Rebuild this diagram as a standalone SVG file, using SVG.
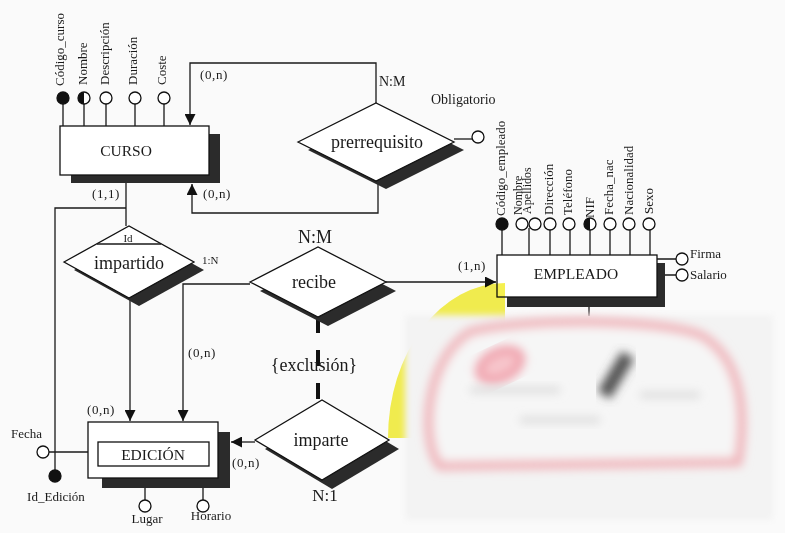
<svg xmlns="http://www.w3.org/2000/svg" width="785" height="533" viewBox="0 0 785 533">
<defs>
<style>
.ln{stroke:#1a1a1a;stroke-width:1.3;fill:none}
.box{fill:#fff;stroke:#111;stroke-width:1.3}
.sh{fill:#2b2b2b}
.at{fill:#fff;stroke:#111;stroke-width:1.3}
.fk{fill:#111;stroke:#111;stroke-width:1.3}
.t{font-family:"Liberation Serif","Times New Roman",serif;fill:#1a1a1a}
.s{font-size:13px}
.c{font-size:13px;letter-spacing:0.6px}
.v{font-size:13px}
.m{font-size:18px}
.e{font-size:15.5px}
</style>
<marker id="ar" viewBox="0 0 10 10" refX="10" refY="5" markerWidth="11" markerHeight="11" markerUnits="userSpaceOnUse" orient="auto">
<path d="M0,0 L10,5 L0,10 Z" fill="#111"/>
</marker>
<filter id="b3" x="-10%" y="-10%" width="120%" height="120%"><feGaussianBlur stdDeviation="3"/></filter>
<filter id="b5" x="-30%" y="-30%" width="160%" height="160%"><feGaussianBlur stdDeviation="5"/></filter>
</defs>
<rect width="785" height="533" fill="#fafafa"/>

<g id="connectors">
<path class="ln" d="M376,103 V63 H190 V125" marker-end="url(#ar)"/>
<path class="ln" d="M378,181 V213 H192 V184" marker-end="url(#ar)"/>
<path class="ln" d="M126,183 V226"/>
<path class="ln" d="M126,208 H55 V470"/>
<path class="ln" d="M130,297 V421" marker-end="url(#ar)"/>
<path class="ln" d="M250,284 H183 V421" marker-end="url(#ar)"/>
<path class="ln" d="M386,282 H496" marker-end="url(#ar)"/>
<path class="ln" d="M255,442 H231" marker-end="url(#ar)"/>
<path d="M318,317 V400" stroke="#111" stroke-width="4" stroke-dasharray="16 17" fill="none"/>
<path class="ln" d="M589,307 V316"/>
</g>

<g id="curso">
<rect class="sh" x="71" y="134" width="149" height="49"/>
<rect class="box" x="60" y="126" width="149" height="49"/>
<text class="t e" x="126" y="156" text-anchor="middle">CURSO</text>
<path class="ln" d="M63,104 V126 M84,104 V126 M106,104 V126 M135,104 V126 M164,104 V126"/>
<circle class="fk" cx="63" cy="98" r="6"/>
<circle class="at" cx="84" cy="98" r="6"/>
<path d="M84,92 A6,6 0 0 0 84,104 Z" fill="#111"/>
<circle class="at" cx="106" cy="98" r="6"/>
<circle class="at" cx="135" cy="98" r="6"/>
<circle class="at" cx="164" cy="98" r="6"/>
<text class="t v" transform="translate(64,86) rotate(-90)">Código_curso</text>
<text class="t v" transform="translate(87,85) rotate(-90)">Nombre</text>
<text class="t v" transform="translate(109,85) rotate(-90)">Descripción</text>
<text class="t v" transform="translate(137,85) rotate(-90)">Duración</text>
<text class="t v" transform="translate(166,85) rotate(-90)">Coste</text>
</g>

<g id="prerrequisito">
<polygon class="sh" points="308,150 386,111 464,150 386,189"/>
<polygon class="box" points="298,142 376,103 454,142 376,181"/>
<text class="t m" x="377" y="148" text-anchor="middle">prerrequisito</text>
<path class="ln" d="M454,139 H472"/>
<circle class="at" cx="478" cy="137" r="6"/>
<text class="t" font-size="14" x="431" y="104">Obligatorio</text>
</g>

<g id="impartido">
<polygon class="sh" points="74,270 139,234 204,270 139,306"/>
<polygon class="box" points="64,262 129,226 194,262 129,298"/>
<path class="ln" d="M97,244 H161"/>
<text class="t" x="128" y="242" text-anchor="middle" font-size="11">Id</text>
<text class="t m" x="129" y="269" text-anchor="middle">impartido</text>
</g>

<g id="recibe">
<polygon class="sh" points="260,291 328,256 396,291 328,326"/>
<polygon class="box" points="250,282 318,247 386,282 318,317"/>
<text class="t m" x="314" y="288" text-anchor="middle">recibe</text>
</g>

<g id="imparte">
<polygon class="sh" points="265,449 332,409 399,449 332,489"/>
<polygon class="box" points="255,440 322,400 389,440 322,480"/>
<text class="t m" x="321" y="446" text-anchor="middle">imparte</text>
</g>

<g id="empleado">
<rect class="sh" x="507" y="263" width="158" height="44"/>
<rect class="box" x="497" y="255" width="160" height="42"/>
<text class="t e" x="576" y="279" text-anchor="middle">EMPLEADO</text>
<path class="ln" d="M502,230 V255 M529,228 V255 M550,230 V255 M570,230 V255 M590,230 V255 M610,230 V255 M630,230 V255 M650,230 V255"/>
<circle class="fk" cx="502" cy="224" r="6"/>
<circle class="at" cx="522" cy="224" r="6"/>
<circle class="at" cx="535" cy="224" r="6"/>
<circle class="at" cx="550" cy="224" r="6"/>
<circle class="at" cx="569" cy="224" r="6"/>
<circle class="at" cx="590" cy="224" r="6"/>
<path d="M590,218 A6,6 0 0 0 590,230 Z" fill="#111"/>
<circle class="at" cx="610" cy="224" r="6"/>
<circle class="at" cx="629" cy="224" r="6"/>
<circle class="at" cx="649" cy="224" r="6"/>
<text class="t v" transform="translate(505,216) rotate(-90)">Código_empleado</text>
<text class="t" font-size="12" transform="translate(522,215) rotate(-90)">Nombre</text>
<text class="t" font-size="12" transform="translate(531,214) rotate(-90)">Apellidos</text>
<text class="t v" transform="translate(553,215) rotate(-90)">Dirección</text>
<text class="t v" transform="translate(572,215) rotate(-90)">Teléfono</text>
<text class="t v" transform="translate(594,218) rotate(-90)">NIF</text>
<text class="t v" transform="translate(613,215) rotate(-90)">Fecha_nac</text>
<text class="t v" transform="translate(633,215) rotate(-90)">Nacionalidad</text>
<text class="t v" transform="translate(653,214) rotate(-90)">Sexo</text>
<path class="ln" d="M657,259 H676 M665,275 H676"/>
<circle class="at" cx="682" cy="259" r="6"/>
<circle class="at" cx="682" cy="275" r="6"/>
<text class="t s" x="690" y="258">Firma</text>
<text class="t s" x="690" y="279">Salario</text>
</g>

<g id="edicion">
<rect class="sh" x="102" y="432" width="128" height="56"/>
<rect class="box" x="88" y="422" width="130" height="56"/>
<rect class="box" x="98" y="442" width="111" height="24"/>
<text class="t e" x="153" y="460" text-anchor="middle">EDICIÓN</text>
<path class="ln" d="M49,452 H88"/>
<circle class="at" cx="43" cy="452" r="6"/>
<text class="t s" x="11" y="438">Fecha</text>
<circle class="fk" cx="55" cy="476" r="6"/>
<text class="t s" x="56" y="501" text-anchor="middle">Id_Edición</text>
<path class="ln" d="M145,488 V500 M203,488 V500"/>
<circle class="at" cx="145" cy="506" r="6"/>
<circle class="at" cx="203" cy="506" r="6"/>
<text class="t s" x="147" y="523" text-anchor="middle">Lugar</text>
<text class="t s" x="211" y="520" text-anchor="middle">Horario</text>
</g>

<g id="labels">
<text class="t c" x="200" y="79">(0,n)</text>
<text class="t" font-size="14" x="379" y="86">N:M</text>
<text class="t c" x="203" y="198">(0,n)</text>
<text class="t c" x="92" y="198">(1,1)</text>
<text class="t" font-size="11" x="202" y="264">1:N</text>
<text class="t m" x="315" y="243" text-anchor="middle">N:M</text>
<text class="t c" x="458" y="270">(1,n)</text>
<text class="t c" x="188" y="357">(0,n)</text>
<text class="t m" x="314" y="371" text-anchor="middle">{exclusión}</text>
<text class="t c" x="87" y="414">(0,n)</text>
<text class="t c" x="232" y="467">(0,n)</text>
<text class="t" font-size="17" x="325" y="501" text-anchor="middle">N:1</text>
</g>

<g id="redacted">
<path d="M505,283 A117,155 0 0 0 388,438 L505,438 Z" fill="#f4ef3c" style="mix-blend-mode:multiply" opacity="0.9"/>
<rect x="405" y="315" width="368" height="205" fill="#f3f3f3" filter="url(#b3)"/>
<path d="M440,466 C420,440 425,360 470,332 C520,318 660,318 702,336 C745,362 745,420 738,462 Z" fill="#f6f6f6" stroke="#f0b3b9" stroke-width="9" filter="url(#b5)"/>
<path d="M448,463 H742" stroke="#888" stroke-width="8" filter="url(#b5)"/>
<path d="M563,432 V462" stroke="#666" stroke-width="10" filter="url(#b5)"/>
<path d="M604,395 L628,355" stroke="#555" stroke-width="15" filter="url(#b5)"/>
<ellipse cx="500" cy="365" rx="22" ry="13" transform="rotate(-25 500 365)" fill="#f7c6cc" stroke="#f0a3ad" stroke-width="9" filter="url(#b5)"/>
<path d="M470,390 H560 M640,395 H700 M520,420 H600" stroke="#d5d5d5" stroke-width="5" filter="url(#b5)"/>
</g>
</svg>
